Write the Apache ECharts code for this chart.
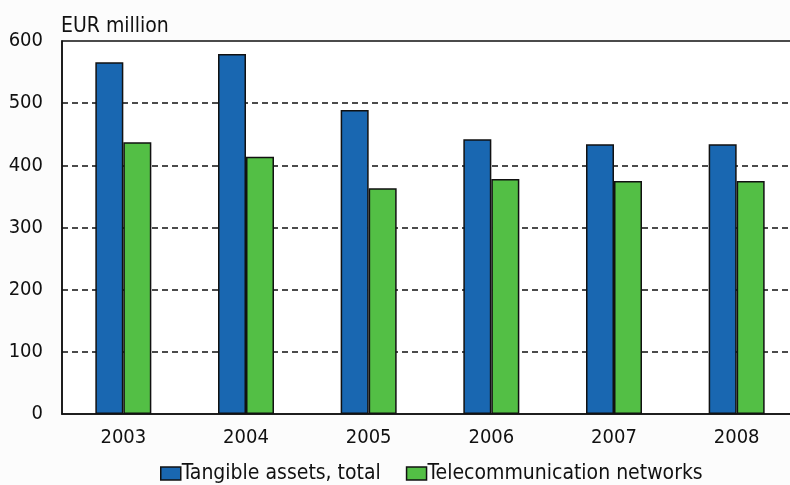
<!DOCTYPE html>
<html>
<head>
<meta charset="utf-8">
<script src="https://cdn.jsdelivr.net/npm/echarts@6/dist/echarts.min.js"></script>
<style>
    html, body { margin: 0; padding: 0; background: #fcfcfc; overflow: hidden; }
    /* 图比窗口宽, 右边被裁掉 */
    #main { width: 800px; height: 485px; }
</style>
</head>
<body>
<div id="main"></div>
<script>
//数据
var years = ['2003', '2004', '2005', '2006', '2007', '2008'];
var tangibleAssets = [566, 579, 489, 442, 434, 434];
var telecomNetworks = [437, 414, 363, 378, 375, 375];
var yTicks = [0, 100, 200, 300, 400, 500, 600];

var FONT = '"Liberation Sans Narrow", "DejaVu Sans Condensed", sans-serif';

var chart = echarts.init(document.getElementById('main'));

var option = {
    backgroundColor: '#fcfcfc',
    animation: false,
    title: {
        text: 'EUR million',
        left: 61,
        top: 16,
        padding: 0,
        textStyle: { fontFamily: FONT, fontSize: 21, fontWeight: 'normal', color: '#111' }
    },
    legend: {
        top: 463,
        left: 160,
        padding: 0,
        icon: 'rect',
        itemWidth: 20,
        itemHeight: 13,
        itemGap: 25,
        itemStyle: { borderColor: '#111', borderWidth: 1.5 },
        textStyle: { fontFamily: FONT, fontSize: 21, color: '#111', padding: [0, 0, 0, -4] },
        data: ['Tangible assets, total', 'Telecommunication networks']
    },
    grid: {
        left: 62,
        top: 41,
        right: 2,
        bottom: 71,
        show: true,
        backgroundColor: '#fff',
        borderColor: '#111',
        borderWidth: 1.5
    },
    xAxis: {
        type: 'category',
        data: years,
        axisTick: { show: false },
        axisLine: { lineStyle: { color: '#111', width: 1.5 } },
        axisLabel: { fontFamily: FONT, fontSize: 20, color: '#111', margin: 14 }
    },
    yAxis: {
        type: 'value',
        min: yTicks[0],
        max: yTicks[yTicks.length - 1],
        interval: 100,
        axisLine: { show: true, lineStyle: { color: '#111', width: 1.5 } },
        axisTick: { show: false },
        axisLabel: { fontFamily: FONT, fontSize: 20, color: '#111', margin: 19 },
        splitLine: {
            show: true,
            showMinLine: false,
            showMaxLine: false,
            lineStyle: { color: '#111', width: 1.5, type: [6, 4] }
        }
    },
    series: [
        {
            name: 'Tangible assets, total',
            type: 'bar',
            data: tangibleAssets,
            barWidth: 28,
            barGap: '0%',
            itemStyle: { color: '#1967b1', borderColor: '#111', borderWidth: 1.5 }
        },
        {
            name: 'Telecommunication networks',
            type: 'bar',
            data: telecomNetworks,
            barWidth: 28,
            barGap: '0%',
            itemStyle: { color: '#53bf45', borderColor: '#111', borderWidth: 1.5 }
        }
    ]
};

chart.setOption(option);
</script>
</body>
</html>
